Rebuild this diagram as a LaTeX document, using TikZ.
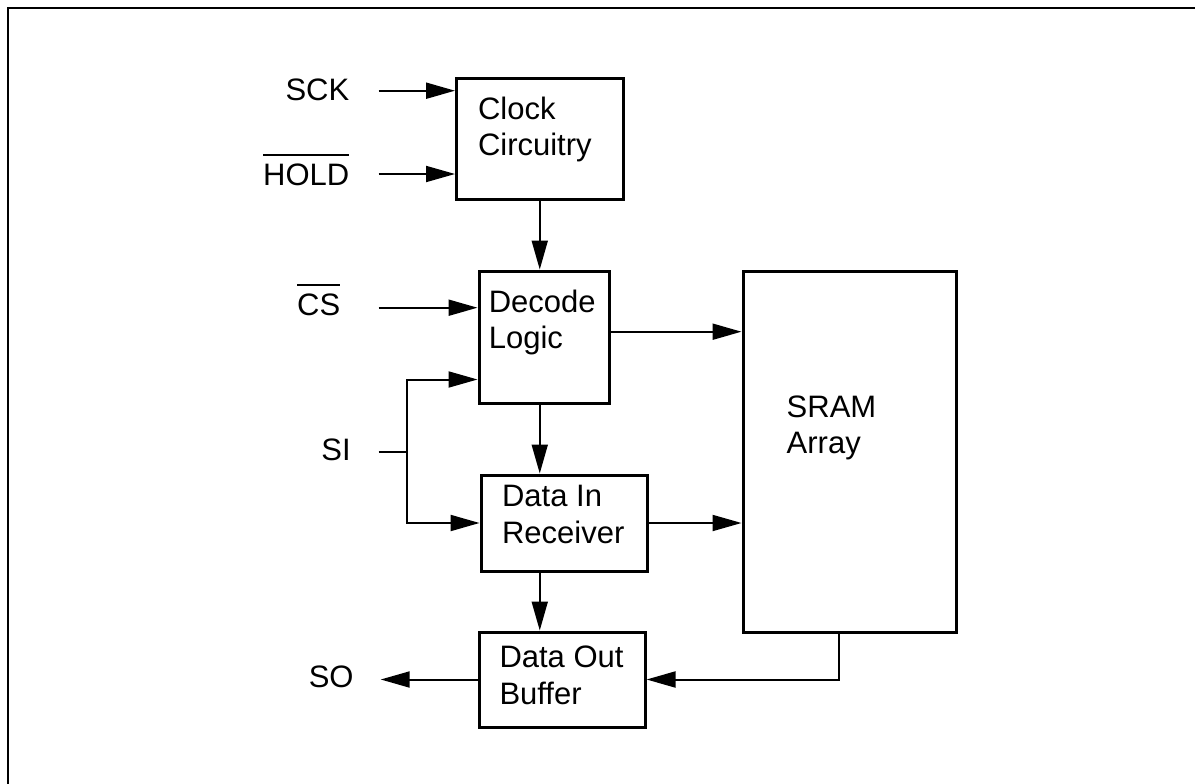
\documentclass[tikz,border=0pt]{standalone}
\usepackage{fontspec}
\setmainfont{Liberation Sans}
\usetikzlibrary{arrows.meta}
\newcommand\ovbar[1]{\vbox{\hrule height 2pt\kern 7pt\hbox{#1}}}
\begin{document}
\begin{tikzpicture}[x=1pt,y=-1pt,
  blk/.style={draw,line width=3pt,inner sep=0pt,outer sep=1.5pt},
  lbl/.style={inner sep=0pt,font=\fontsize{31pt}{36.5pt}\selectfont},
  wire/.style={line width=2pt},
  arr/.style={line width=2pt,-{Triangle[length=29pt,width=16pt]}}]
\useasboundingbox (0,0) rectangle (1195,784);
% frame
\draw[line width=2.5pt] (8,800) -- (8,8) -- (1210,8);
% blocks
\node[blk,minimum width=166.5pt,minimum height=120pt] (clk) at (539.75,139) {};
\node[blk,minimum width=130pt,minimum height=132pt] (dec) at (544,337) {};
\node[blk,minimum width=166.5pt,minimum height=96pt] (din) at (564.3,523) {};
\node[blk,minimum width=165.7pt,minimum height=95pt] (dout) at (562.2,679.5) {};
\node[blk,minimum width=213pt,minimum height=361pt] (sram) at (849.5,452) {};
% block texts
\node[lbl,anchor=north west,align=left] (clkT) at (477.8,96.6) {Clock\\Circuitry};
\node[lbl,anchor=north west,align=left] (decT) at (488.6,289.6) {Decode\\Logic};
\node[lbl,anchor=north west,align=left] (dinT) at (501.9,485.3) {Data In\\Receiver};
\node[lbl,anchor=north west,align=left] (doutT) at (499.3,645.9) {Data Out\\Buffer};
\node[lbl,anchor=north west,align=left] (sramT) at (786.5,395.6) {SRAM\\Array};
% pin labels
\node[lbl,anchor=base east] (sck) at (349.5,100.7) {SCK};
\node[lbl,anchor=base east] (hold) at (349.5,185) {\ovbar{HOLD}};
\node[lbl,anchor=base east] (cs) at (340.5,315) {\ovbar{CS}};
\node[lbl,anchor=base east] (si) at (350.9,460.7) {SI};
\node[lbl,anchor=base east] (so) at (353.8,687.7) {SO};
% pin wire ends
\coordinate (sckS) at (378.6,90.7);
\coordinate (holdS) at (378.6,174);
\coordinate (csS) at (378.6,307.7);
\coordinate (siS) at (378.6,452);
\coordinate (siJ) at (406.7,452);
\coordinate (siT) at (406.7,379.5);
\coordinate (soE) at (380.7,679.5);
% inputs
\draw[arr] (sckS) -- (sckS -| clk.west);
\draw[arr] (holdS) -- (holdS -| clk.west);
\draw[arr] (csS) -- (csS -| dec.west);
\draw[wire] (siS) -- (siJ);
\draw[arr] (siJ) -- (siT) -- (siT -| dec.west);
\draw[arr] (siJ) |- (din.west);
% internal
\draw[arr] (clk.south) -- (clk.south |- dec.north);
\draw[arr] ([yshift=5.3pt]dec.east) -- ([yshift=5.3pt]dec.east -| sram.west);
\draw[arr] (dec.south -| clk.south) -- (din.north -| clk.south);
\draw[arr] (din.east) -- (din.east -| sram.west);
\draw[arr] (din.south -| clk.south) -- (dout.north -| clk.south);
\draw[arr] ([xshift=-10.5pt]sram.south) |- (dout.east);
\draw[arr] (dout.west) -- (soE);
\end{tikzpicture}
\end{document}
